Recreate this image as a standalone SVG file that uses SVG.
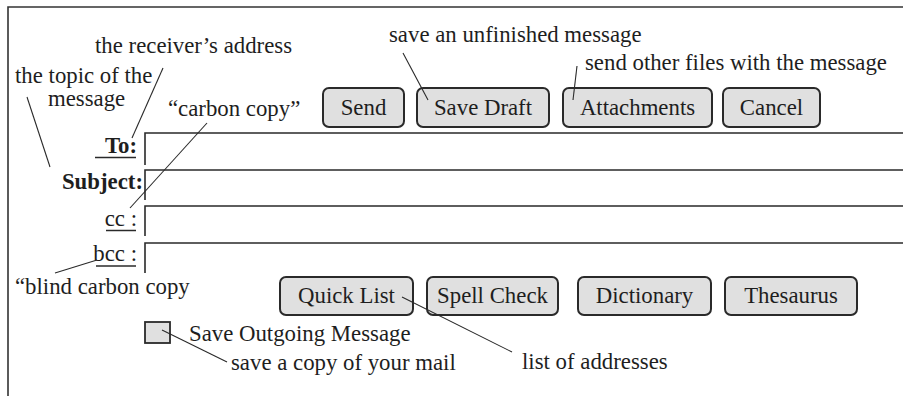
<svg xmlns="http://www.w3.org/2000/svg" width="911" height="396" viewBox="0 0 911 396">
<style>
text{font-family:"Liberation Serif","Times New Roman",serif;font-size:22.8px;fill:#1e1e1e}
.b{font-weight:bold}
.m{text-anchor:middle}
.e{text-anchor:end}
.btn rect{fill:#e0e0e0;stroke:#2a2a2a;stroke-width:2}
.fld{fill:none;stroke:#2a2a2a;stroke-width:1.6}
.ld{stroke:#2a2a2a;stroke-width:1.1;fill:none}
.ul{stroke:#2a2a2a;stroke-width:1.5}
</style>
<rect width="911" height="396" fill="#fff"/>
<g id="frame"><path d="M8 396V7H903" fill="none" stroke="#333" stroke-width="1.6"/></g>
<g id="fields">
<path class="fld" d="M145 165V133H903"/>
<path class="fld" d="M145 200V170H903"/>
<path class="fld" d="M145 236V206H903"/>
<path class="fld" d="M145 273V243H903"/>
</g>
<g id="lbl-to"><text class="b e" x="137" y="153">To:</text><line class="ul" x1="95" y1="157.5" x2="136" y2="157.5"/></g>
<g id="lbl-subject"><text class="b e" x="143" y="189">Subject:</text></g>
<g id="lbl-cc"><text class="e" x="137" y="226">cc :</text><line class="ul" x1="106" y1="230.5" x2="136" y2="230.5"/></g>
<g id="lbl-bcc"><text class="e" x="137" y="261">bcc :</text><line class="ul" x1="96" y1="266" x2="136" y2="266"/></g>
<g id="btn-send" class="btn"><rect x="323" y="88" width="81" height="39" rx="6"/><text class="m" x="363.5" y="115">Send</text></g>
<g id="btn-savedraft" class="btn"><rect x="417" y="88" width="132" height="39" rx="6"/><text class="m" x="483" y="115">Save Draft</text></g>
<g id="btn-attachments" class="btn"><rect x="563" y="88" width="149" height="39" rx="6"/><text class="m" x="637.5" y="115">Attachments</text></g>
<g id="btn-cancel" class="btn"><rect x="723" y="88" width="97" height="39" rx="6"/><text class="m" x="771.5" y="115">Cancel</text></g>
<g id="btn-quicklist" class="btn"><rect x="280" y="277" width="133" height="38" rx="6"/><text class="m" x="346.5" y="303">Quick List</text></g>
<g id="btn-spellcheck" class="btn"><rect x="427" y="277" width="131" height="38" rx="6"/><text class="m" x="492.5" y="303">Spell Check</text></g>
<g id="btn-dictionary" class="btn"><rect x="578" y="277" width="133" height="38" rx="6"/><text class="m" x="644.5" y="303">Dictionary</text></g>
<g id="btn-thesaurus" class="btn"><rect x="725" y="277" width="132" height="38" rx="6"/><text class="m" x="791" y="303">Thesaurus</text></g>
<g id="checkbox"><rect x="145" y="322" width="25" height="21" fill="#e0e0e0" stroke="#2a2a2a" stroke-width="1.8"/><text x="189" y="341">Save Outgoing Message</text></g>
<g id="annotations">
<text x="95" y="53">the receiver’s address</text>
<text x="15" y="83">the topic of the</text>
<text x="48" y="106">message</text>
<text x="168" y="116">“carbon copy”</text>
<text x="389" y="42">save an unfinished message</text>
<text x="585" y="70">send other files with the message</text>
<text x="15" y="294">“blind carbon copy</text>
<text x="231" y="370">save a copy of your mail</text>
<text x="522" y="369">list of addresses</text>
</g>
<g id="connectors">
<line class="ld" x1="163" y1="68" x2="132" y2="138"/>
<line class="ld" x1="27" y1="97" x2="50" y2="167"/>
<line class="ld" x1="207" y1="123" x2="130" y2="208"/>
<line class="ld" x1="403" y1="53" x2="428" y2="100"/>
<line class="ld" x1="577" y1="66" x2="573" y2="100"/>
<line class="ld" x1="55" y1="273" x2="97" y2="260"/>
<line class="ld" x1="162" y1="330" x2="227" y2="362"/>
<line class="ld" x1="402" y1="297" x2="512" y2="352"/>
</g>
</svg>
